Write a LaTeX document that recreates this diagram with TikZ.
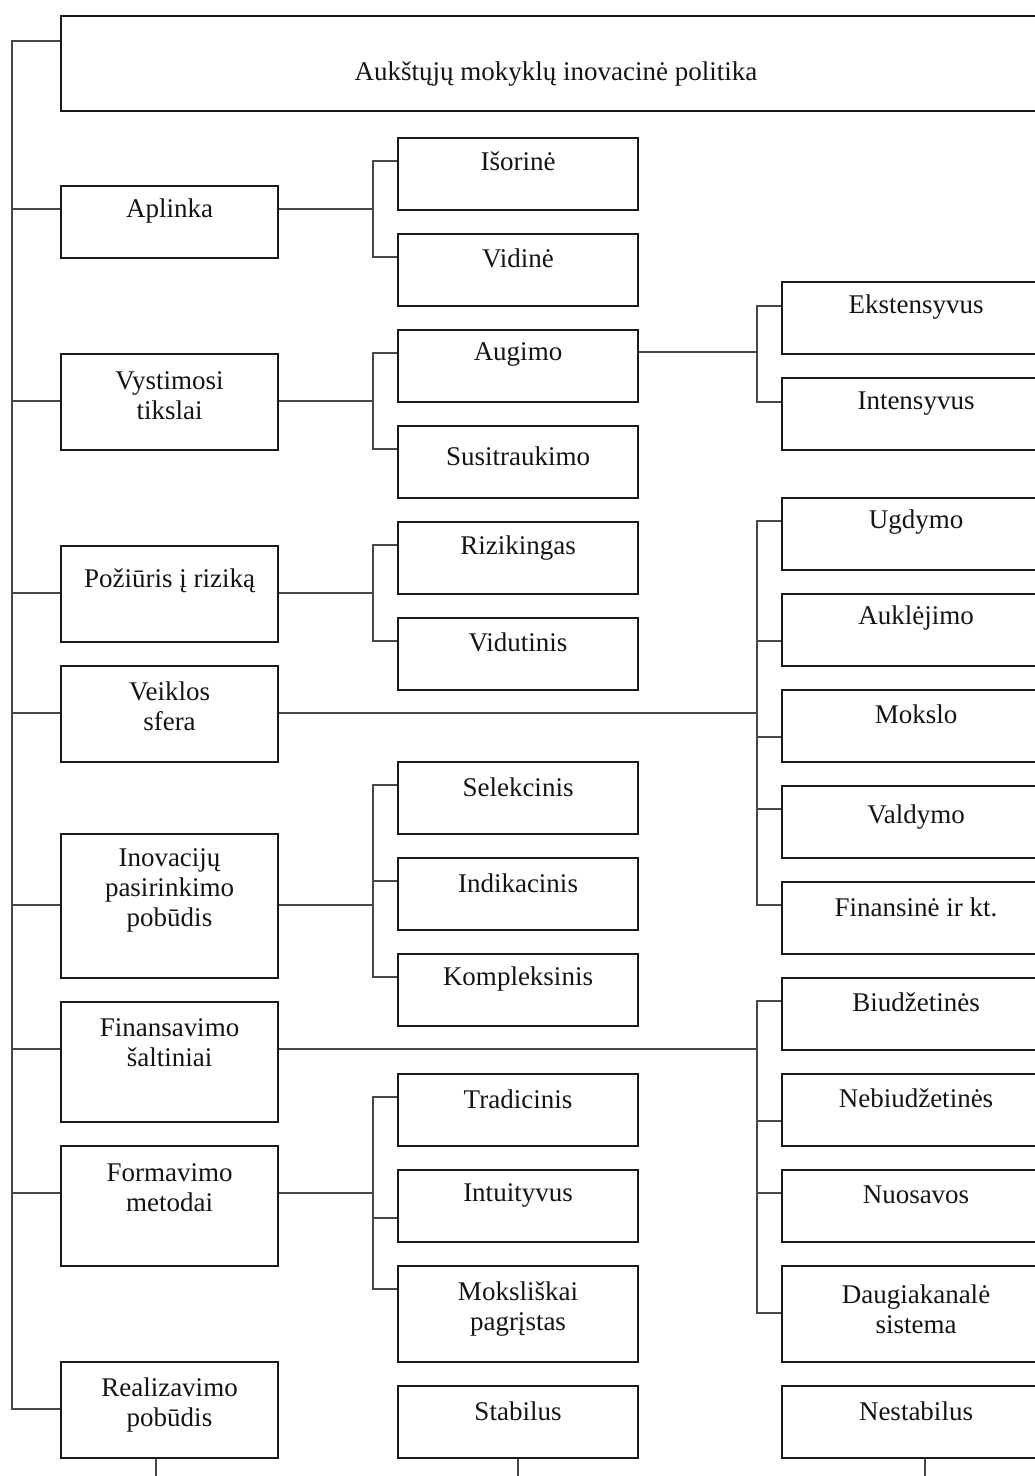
\documentclass[tikz,border=0pt]{standalone}
\usepackage{fontspec}
\setmainfont{Liberation Serif}
\usetikzlibrary{calc}
\begin{document}
\begin{tikzpicture}[x=1pt,y=-1pt,
  box/.style={draw=black!90, line width=2pt, anchor=north west, inner sep=0pt},
  lbl/.style={font=\fontsize{27}{30}\selectfont, align=center, inner sep=0pt, text=black!92},
  wire/.style={draw=black!72, line width=2pt}]
\useasboundingbox (0,0) rectangle (1035,1476);

% box: name, left, top, width, height, text offset from top, text
\newcommand\cbox[7]{%
  \node[box, minimum width=#4pt, minimum height=#5pt] (#1) at (#2,#3) {};
  \node[lbl] (#1-t) at ($(#1.north)+(0,#6)$) {#7};}

% title
\cbox{top}{60}{15}{990}{95}{59}{Aukštųjų mokyklų inovacinė politika}

% first level
\cbox{apl}{60}{185}{217}{72}{26}{Aplinka}
\cbox{vys}{60}{353}{217}{96}{43}{Vystimosi\\tikslai}
\cbox{poz}{60}{545}{217}{96}{36}{Požiūris į riziką}
\cbox{vei}{60}{665}{217}{96}{41}{Veiklos\\sfera}
\cbox{ino}{60}{833}{217}{144}{57}{Inovacijų\\pasirinkimo\\pobūdis}
\cbox{fin}{60}{1001}{217}{120}{42}{Finansavimo\\šaltiniai}
\cbox{for}{60}{1145}{217}{120}{43}{Formavimo\\metodai}
\cbox{rea}{60}{1361}{217}{96}{44}{Realizavimo\\pobūdis}

% second level
\cbox{isr}{397}{137}{240}{72}{24}{Išorinė}
\cbox{vid}{397}{233}{240}{72}{25}{Vidinė}
\cbox{aug}{397}{329}{240}{72}{25}{Augimo}
\cbox{sus}{397}{425}{240}{72}{31}{Susitraukimo}
\cbox{riz}{397}{521}{240}{72}{27}{Rizikingas}
\cbox{vdt}{397}{617}{240}{72}{25}{Vidutinis}
\cbox{sel}{397}{761}{240}{72}{26}{Selekcinis}
\cbox{ind}{397}{857}{240}{72}{26}{Indikacinis}
\cbox{kom}{397}{953}{240}{72}{26}{Kompleksinis}
\cbox{tra}{397}{1073}{240}{72}{26}{Tradicinis}
\cbox{int}{397}{1169}{240}{72}{26}{Intuityvus}
\cbox{mok}{397}{1265}{240}{96}{44}{Moksliškai\\pagrįstas}
\cbox{sta}{397}{1385}{240}{72}{26}{Stabilus}

% third level
\cbox{eks}{781}{281}{268}{72}{26}{Ekstensyvus}
\cbox{inte}{781}{377}{268}{72}{27}{Intensyvus}
\cbox{ugd}{781}{497}{268}{72}{25}{Ugdymo}
\cbox{auk}{781}{593}{268}{72}{25}{Auklėjimo}
\cbox{moks}{781}{689}{268}{72}{25}{Mokslo}
\cbox{val}{781}{785}{268}{72}{32}{Valdymo}
\cbox{fnk}{781}{881}{268}{72}{26}{Finansinė ir kt.}
\cbox{biu}{781}{977}{268}{72}{25}{Biudžetinės}
\cbox{neb}{781}{1073}{268}{72}{25}{Nebiudžetinės}
\cbox{nuo}{781}{1169}{268}{72}{26}{Nuosavos}
\cbox{dau}{781}{1265}{268}{96}{44}{Daugiakanalė\\sistema}
\cbox{nes}{781}{1385}{268}{72}{26}{Nestabilus}

% bus lines
\coordinate (spine) at (12,0);
\coordinate (midbus) at (373,0);
\coordinate (rightbus) at (757,0);
\coordinate (edge) at (0,1480);

% ports
\coordinate (top-w) at ($(top.north west)+(0,26)$);
\foreach \n/\d in {apl/24, vys/48, poz/48, vei/48, ino/72, fin/48, for/48, rea/48} {
  \coordinate (\n-w) at ($(\n.north west)+(0,\d)$);
  \coordinate (\n-e) at ($(\n.north east)+(0,\d)$);
}
\foreach \n/\d in {isr/24, vid/24, aug/24, sus/24, riz/24, vdt/24, sel/24, ind/24,
                   kom/24, tra/24, int/49, mok/24,
                   eks/25, inte/25, ugd/24, auk/48, moks/48, val/24, fnk/24,
                   biu/24, neb/48, nuo/24, dau/48}
  \coordinate (\n-w) at ($(\n.north west)+(0,\d)$);
\coordinate (aug-e) at ($(aug.north east)+(0,23)$);

% main spine
\draw[wire] (top-w) -- (top-w -| spine) -- (rea-w -| spine) -- (rea-w);
\foreach \n in {apl, vys, poz, vei, ino, fin, for}
  \draw[wire] (\n-w -| spine) -- (\n-w);

% brackets to the second level
\draw[wire] (apl-e) -- (apl-e -| midbus);
\draw[wire] (isr-w) -- (isr-w -| midbus) -- (vid-w -| midbus) -- (vid-w);
\draw[wire] (vys-e) -- (vys-e -| midbus);
\draw[wire] (aug-w) -- (aug-w -| midbus) -- (sus-w -| midbus) -- (sus-w);
\draw[wire] (poz-e) -- (poz-e -| midbus);
\draw[wire] (riz-w) -- (riz-w -| midbus) -- (vdt-w -| midbus) -- (vdt-w);
\draw[wire] (ino-e) -- (ino-e -| midbus);
\draw[wire] (sel-w) -- (sel-w -| midbus) -- (kom-w -| midbus) -- (kom-w);
\draw[wire] (ind-w -| midbus) -- (ind-w);
\draw[wire] (for-e) -- (for-e -| midbus);
\draw[wire] (tra-w) -- (tra-w -| midbus) -- (mok-w -| midbus) -- (mok-w);
\draw[wire] (int-w -| midbus) -- (int-w);

% brackets to the third level
\draw[wire] (aug-e) -- (aug-e -| rightbus);
\draw[wire] (eks-w) -- (eks-w -| rightbus) -- (inte-w -| rightbus) -- (inte-w);
\draw[wire] (vei-e) -- (vei-e -| rightbus);
\draw[wire] (ugd-w) -- (ugd-w -| rightbus) -- (fnk-w -| rightbus) -- (fnk-w);
\foreach \n in {auk, moks, val}
  \draw[wire] (\n-w -| rightbus) -- (\n-w);
\draw[wire] (fin-e) -- (fin-e -| rightbus);
\draw[wire] (biu-w) -- (biu-w -| rightbus) -- (dau-w -| rightbus) -- (dau-w);
\foreach \n in {neb, nuo}
  \draw[wire] (\n-w -| rightbus) -- (\n-w);

% tails at the bottom
\coordinate (rea-tail) at ($(rea.south west)+(96,0)$);
\coordinate (sta-tail) at ($(sta.south west)+(121,0)$);
\coordinate (nes-tail) at ($(nes.south west)+(144,0)$);
\foreach \n in {rea, sta, nes}
  \draw[wire] (\n-tail) -- (\n-tail |- edge);
\end{tikzpicture}
\end{document}
